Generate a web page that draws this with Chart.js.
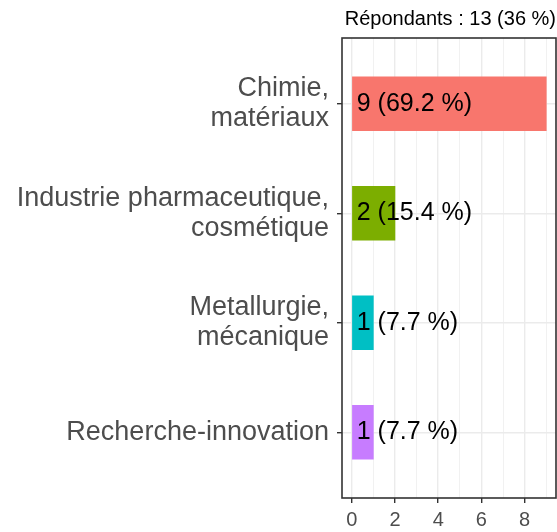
<!DOCTYPE html>
<html>
<head>
<meta charset="utf-8">
<script src="https://cdn.jsdelivr.net/npm/chart.js@4"></script>
<style>
  html, body { margin: 0; padding: 0; background: #fff; }
  #wrap { width: 557px; height: 532px; }
</style>
</head>
<body>
<div id="wrap"><canvas id="chart"></canvas></div>
<script>
// données
const categories = ['Chimie,\nmatériaux', 'Industrie pharmaceutique,\ncosmétique', 'Metallurgie,\nmécanique', 'Recherche-innovation'];
const counts = [9, 2, 1, 1];
const barColors = ['#F8766D', '#7CAE00', '#00BFC4', '#C77CFF'];
const xTicks = [0, 1, 2, 3, 4, 5, 6, 7, 8, 9];
const respondentShare = 36;

const total = counts.reduce((a, b) => a + b, 0);
Chart.defaults.font.family = '"Liberation Sans", Arial, sans-serif';

// étiquettes des barres + cadre du panneau
const panelExtras = {
    id: 'panelExtras',
    afterDatasetsDraw(chart) {
        const ctx = chart.ctx;
        const x0 = chart.scales.x.getPixelForValue(0);
        ctx.save();
        ctx.font = '25px "Liberation Sans", Arial, sans-serif';
        ctx.fillStyle = '#000';
        ctx.textBaseline = 'middle';
        chart.getDatasetMeta(0).data.forEach((bar, i) => {
            const pct = (counts[i] / total * 100).toFixed(1);
            ctx.fillText(counts[i] + ' (' + pct + ' %)', x0 + 5, bar.y);
        });
        ctx.restore();
    },
    afterDraw(chart) {
        const { ctx, chartArea: a } = chart;
        ctx.save();
        ctx.strokeStyle = '#333333';
        ctx.lineWidth = 1.6;
        ctx.strokeRect(a.left, a.top, a.right - a.left, a.bottom - a.top);
        ctx.restore();
    }
};

new Chart(document.getElementById('chart'), {
    type: 'bar',
    data: {
        datasets: [{
            data: counts.map((v, i) => ({ x: v, y: i + 1 })),
            backgroundColor: barColors,
            borderWidth: 0,
            barThickness: 54
        }]
    },
    options: {
        indexAxis: 'y',
        responsive: true,
        maintainAspectRatio: false,
        animation: false,
        layout: { padding: { left: 0, right: 1, top: 0, bottom: 0 } },
        plugins: {
            legend: { display: false },
            tooltip: { enabled: false },
            title: {
                display: true,
                text: 'Répondants : ' + total + ' (' + respondentShare + ' %)',
                align: 'end',
                color: '#000',
                font: { size: 20, weight: 'normal' },
                padding: { top: 7, bottom: 7 }
            }
        },
        scales: {
            x: {
                type: 'linear',
                min: -0.45,
                max: 9.45,
                afterBuildTicks: s => { s.ticks = xTicks.map(v => ({ value: v })); },
                afterFit: s => { s.height = 34; s.paddingLeft = 0; s.paddingRight = 0; },
                border: { display: false },
                grid: {
                    color: '#EBEBEB',
                    lineWidth: c => (c.tick && c.tick.value % 2) ? 0.7 : 1.4,
                    tickColor: c => (c.tick && c.tick.value % 2) ? 'rgba(0,0,0,0)' : '#333333',
                    tickLength: 5,
                    tickWidth: 1.4
                },
                ticks: {
                    autoSkip: false,
                    maxRotation: 0,
                    padding: 5,
                    color: '#4D4D4D',
                    font: { size: 20 },
                    callback: v => (v % 2 === 0 ? v : '')
                }
            },
            y: {
                type: 'linear',
                reverse: true,
                offset: false,
                min: 0.4,
                max: 4.6,
                afterBuildTicks: s => { s.ticks = categories.map((_, i) => ({ value: i + 1 })); },
                afterFit: s => { s.width = 342; s.paddingTop = 0; s.paddingBottom = 0; },
                border: { display: false },
                grid: {
                    offset: false,
                    color: '#EBEBEB',
                    lineWidth: 1.4,
                    tickColor: '#333333',
                    tickLength: 5,
                    tickWidth: 1.4
                },
                ticks: {
                    autoSkip: false,
                    padding: 8,
                    color: '#4D4D4D',
                    font: { size: 27, lineHeight: 1.1 },
                    callback: v => categories[v - 1].split('\n')
                }
            }
        }
    },
    plugins: [panelExtras]
});
</script>
</body>
</html>
